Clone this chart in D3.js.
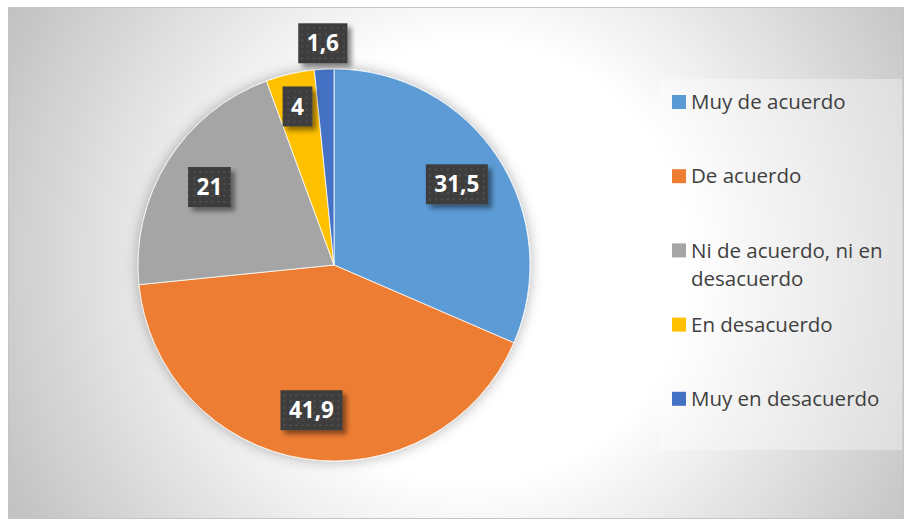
<!DOCTYPE html>
<html>
<head>
<meta charset="utf-8">
<script src="https://cdn.jsdelivr.net/npm/d3@7/dist/d3.min.js"></script>
<style>
  html, body { margin: 0; padding: 0; background: #ffffff; }
  svg { display: block; }
</style>
</head>
<body>
<svg id="chart" width="906" height="519"></svg>
<script>
// Survey answers (percent of respondents)
const categories = ["Muy de acuerdo", "De acuerdo", "Ni de acuerdo, ni en desacuerdo", "En desacuerdo", "Muy en desacuerdo"];
const values = [31.5, 41.9, 21, 4, 1.6];
const valueLabels = ["31,5", "41,9", "21", "4", "1,6"];
const colors = ["#5B9BD5", "#ED7D31", "#A5A5A5", "#FFC000", "#4472C4"];

const W = 906, H = 519;
const svg = d3.select("#chart");
const defs = svg.append("defs");

// chart-area background: radial fade from white to grey
const bg = defs.append("radialGradient")
  .attr("id", "bgGrad")
  .attr("gradientUnits", "userSpaceOnUse")
  .attr("cx", 470).attr("cy", 262).attr("r", 520);
bg.append("stop").attr("offset", "0").attr("stop-color", "#ffffff");
bg.append("stop").attr("offset", "0.42").attr("stop-color", "#ffffff");
bg.append("stop").attr("offset", "1").attr("stop-color", "#c2c2c2");

// soft shadow behind the pie
const pieShadow = defs.append("filter").attr("id", "pieShadow")
  .attr("x", "-20%").attr("y", "-20%").attr("width", "140%").attr("height", "140%");
pieShadow.append("feGaussianBlur").attr("in", "SourceAlpha").attr("stdDeviation", 7).attr("result", "b");
pieShadow.append("feComponentTransfer").attr("in", "b").attr("result", "s")
  .append("feFuncA").attr("type", "linear").attr("slope", 0.3);
const pm = pieShadow.append("feMerge");
pm.append("feMergeNode").attr("in", "s");
pm.append("feMergeNode").attr("in", "SourceGraphic");

// drop shadow for the value boxes
const boxShadow = defs.append("filter").attr("id", "boxShadow")
  .attr("x", "-30%").attr("y", "-30%").attr("width", "170%").attr("height", "170%");
boxShadow.append("feGaussianBlur").attr("in", "SourceAlpha").attr("stdDeviation", 2.5).attr("result", "b");
boxShadow.append("feOffset").attr("in", "b").attr("dx", 4).attr("dy", 4).attr("result", "o");
boxShadow.append("feComponentTransfer").attr("in", "o").attr("result", "s")
  .append("feFuncA").attr("type", "linear").attr("slope", 0.45);
const bm = boxShadow.append("feMerge");
bm.append("feMergeNode").attr("in", "s");
bm.append("feMergeNode").attr("in", "SourceGraphic");

// dotted dark texture for the value boxes
const pat = defs.append("pattern").attr("id", "dots")
  .attr("patternUnits", "userSpaceOnUse").attr("width", 6).attr("height", 6);
pat.append("rect").attr("width", 6).attr("height", 6).attr("fill", "#3e3e3e");
pat.append("rect").attr("x", 2).attr("y", 2).attr("width", 2).attr("height", 2).attr("fill", "#4f4f4f");

// chart area
svg.append("rect")
  .attr("x", 8.5).attr("y", 7.5).attr("width", 895).attr("height", 511)
  .attr("fill", "url(#bgGrad)")
  .attr("stroke", "#c4c4c4").attr("stroke-width", 1);

// pie
const cx = 334, cy = 265, R = 196;
const pie = d3.pie().sort(null).value(d => d)
  .startAngle(0).endAngle(2 * Math.PI);
const arcs = pie(values);
const arc = d3.arc().innerRadius(0).outerRadius(R);

const g = svg.append("g").attr("transform", `translate(${cx},${cy})`);
g.append("g").attr("filter", "url(#pieShadow)")
  .selectAll("path").data(arcs).join("path")
  .attr("d", arc)
  .attr("fill", (d, i) => colors[i])
  .attr("stroke", "#ffffff").attr("stroke-width", 0.8);

// value labels: inside for wide slices, outside for very thin ones
function labelRadius(d) {
  const span = d.endAngle - d.startAngle;
  if (span < 0.15) return R + 26;
  if (span < 0.5) return R * 0.83;
  return R * 0.75;
}
const labels = g.selectAll("g.lbl").data(arcs).join("g").attr("class", "lbl")
  .attr("transform", d => {
    const a = (d.startAngle + d.endAngle) / 2;
    const r = labelRadius(d);
    return `translate(${r * Math.sin(a)},${-r * Math.cos(a)})`;
  });
labels.each(function (d, i) {
  const sel = d3.select(this);
  const box = sel.append("rect").attr("fill", "url(#dots)").attr("filter", "url(#boxShadow)");
  const t = sel.append("text")
    .attr("text-anchor", "middle").attr("dy", "0.36em")
    .attr("font-family", "'Open Sans', sans-serif").attr("font-weight", 700)
    .attr("font-size", 22.5).attr("fill", "#ffffff")
    .text(valueLabels[i]);
  const w = t.node().getComputedTextLength() + 17;
  const h = 40;
  box.attr("x", -w / 2).attr("y", -h / 2).attr("width", w).attr("height", h);
});

// legend
const lx = 659, ly = 79, lw = 243, lh = 371;
svg.append("rect").attr("x", lx).attr("y", ly).attr("width", lw).attr("height", lh)
  .attr("fill", "#ffffff").attr("fill-opacity", 0.35);

const legend = svg.append("g");
const itemStep = 74.2, firstY = 102, lineH = 28, maxTextW = 205;
categories.forEach((c, i) => {
  const y = firstY + i * itemStep;
  legend.append("rect").attr("x", 672).attr("y", y - 7).attr("width", 14).attr("height", 14)
    .attr("fill", colors[i]);
  const t = legend.append("text")
    .attr("x", 691).attr("y", y).attr("dy", "0.35em")
    .attr("font-family", "'Open Sans', sans-serif").attr("font-size", 20.5)
    .attr("fill", "#404040");
  // word wrap inside the legend width
  const words = c.split(" ");
  let line = [];
  let tspan = t.append("tspan").attr("x", 691);
  words.forEach(word => {
    line.push(word);
    tspan.text(line.join(" "));
    if (tspan.node().getComputedTextLength() > maxTextW && line.length > 1) {
      line.pop();
      tspan.text(line.join(" "));
      line = [word];
      tspan = t.append("tspan").attr("x", 691).attr("dy", lineH).text(word);
    }
  });
});
</script>
</body>
</html>
